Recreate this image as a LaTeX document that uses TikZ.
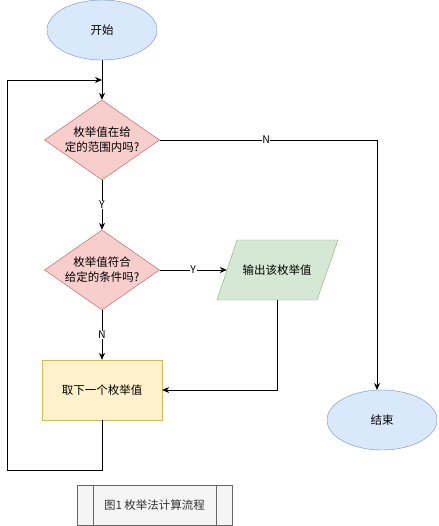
\documentclass[tikz,border=0pt]{standalone}
\usepackage{fontspec}
\setmainfont{Noto Sans CJK SC}
\usetikzlibrary{shapes.geometric,arrows.meta}
\definecolor{bfill}{HTML}{DAE8FC}\definecolor{bline}{HTML}{6C8EBF}
\definecolor{rfill}{HTML}{F8CECC}\definecolor{rline}{HTML}{B85450}
\definecolor{gfill}{HTML}{D5E8D4}\definecolor{gline}{HTML}{82B366}
\definecolor{yfill}{HTML}{FFF2CC}\definecolor{yline}{HTML}{D6B656}
\definecolor{cfill}{HTML}{F5F5F5}\definecolor{cline}{HTML}{666666}\definecolor{ctext}{HTML}{333333}
\begin{document}
\begin{tikzpicture}[x=1pt,y=-1pt,
  font=\fontsize{11.5}{15}\selectfont,
  term/.style={ellipse,draw=bline,fill=bfill,minimum width=110pt,minimum height=60pt,inner sep=0pt},
  dec/.style={diamond,draw=rline,fill=rfill,minimum width=115pt,minimum height=80pt,inner sep=0pt,aspect=1.4375,align=center},
  proc/.style={rectangle,draw=yline,fill=yfill,minimum width=120pt,minimum height=60pt},
  iobox/.style={rectangle,draw=none,minimum width=100pt,minimum height=60pt,inner sep=0pt},
  capbox/.style={rectangle,draw=cline,fill=cfill,text=ctext,minimum width=155pt,minimum height=40pt},
  arr/.style={draw=black,line width=0.8pt,-{Stealth[length=7pt,width=6pt]}},
  ln/.style={draw=black,line width=0.8pt},
  lbl/.style={fill=white,inner sep=0.5pt,font=\fontsize{10.5}{12}\selectfont}]
\useasboundingbox (0,0) rectangle (438,526);
\node[term] (start) at (102,30) {开始};
\node[dec] (d1) at (102,140) {枚举值在给\\定的范围内吗?};
\node[dec] (d2) at (102,270) {枚举值符合\\给定的条件吗?};
\fill[gfill,draw=gline] (237,240) -- (338,240) -- (317,300) -- (217,300) -- cycle;
\node[iobox] (out) at (277,270) {输出该枚举值};
\node[proc] (next) at (102,390) {取下一个枚举值};
\node[term] (end) at (382,420) {结束};
\node[capbox] (cap) at (154.5,505) {图1 枚举法计算流程};
\draw[cline] (93,485) -- (93,525) (216,485) -- (216,525);
\coordinate (lp) at (102,80);
\coordinate (b1) at (102,470);
\coordinate (b2) at (7,470);
\coordinate (b3) at (7,80);
\coordinate (c1) at (377,140);
\coordinate (c2) at (377,390);
\coordinate (o1) at (277,390);
\draw[arr] (start.south) -- (d1.north);
\draw[arr] (d1.south) -- node[lbl] {Y} (d2.north);
\draw[arr] (d2.east) -- node[lbl] {Y} (out.west);
\draw[arr] (d2.south) -- node[lbl] {N} (next.north);
\draw[arr] (out.south) -- (o1) -- (next.east);
\draw[arr] (d1.east) -- node[lbl,pos=0.49] {N} (c1) -- (c2);
\draw[arr] (next.south) -- (b1) -- (b2) -- (b3) -- (lp);
\end{tikzpicture}
\end{document}
